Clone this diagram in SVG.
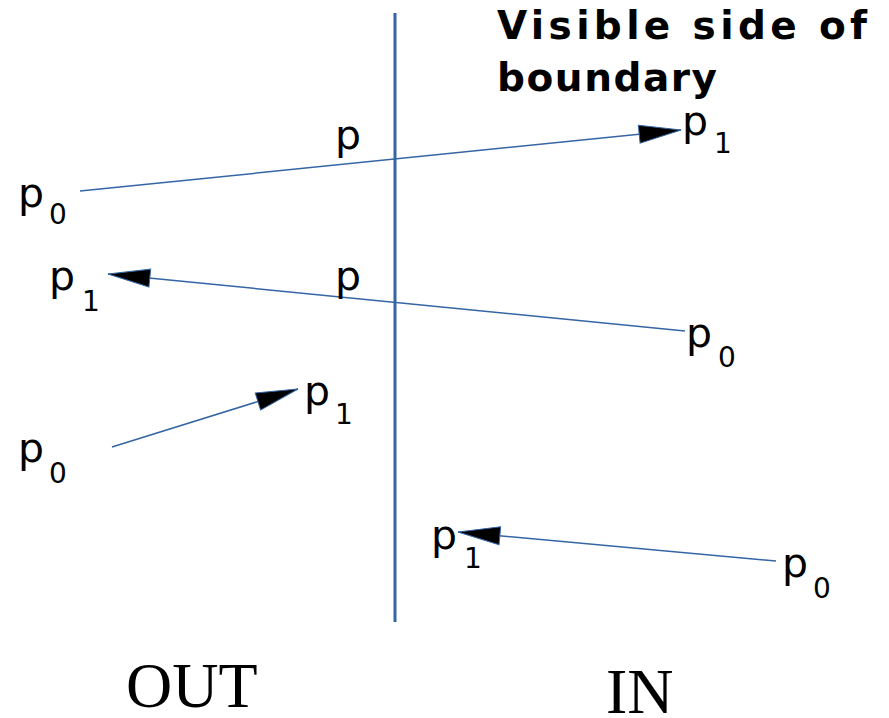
<svg xmlns="http://www.w3.org/2000/svg" width="889" height="718" viewBox="0 0 889 718">
<style>
.lbl{font-family:"DejaVu Sans",sans-serif;font-size:41px;fill:#000}
.sub{font-family:"DejaVu Sans",sans-serif;font-size:28px;fill:#000}
.title{font-family:"DejaVu Sans",sans-serif;font-size:39px;font-weight:bold;fill:#000}
.side{font-family:"Liberation Serif",serif;font-size:64px;fill:#000}
.conn{stroke:#3465a4;stroke-width:1.5;fill:none;marker-end:url(#ah)}
.bound{stroke:#3465a4;stroke-width:3;fill:none}
</style>
<defs>
<marker id="ah" markerUnits="userSpaceOnUse" markerWidth="46" markerHeight="22" refX="43" refY="10" orient="auto" viewBox="0 0 46 22">
<path d="M1,1 L43,10 L1,19 Z" fill="#000" stroke="#3465a4" stroke-width="1"/>
</marker>
</defs>
<rect width="889" height="718" fill="#fff"/>
<g id="boundary"><line class="bound" x1="395" y1="13" x2="395" y2="622"/></g>
<g id="title">
<text class="title" x="497" y="39" textLength="370" lengthAdjust="spacing">Visible side of</text>
<text class="title" x="497" y="91" textLength="220" lengthAdjust="spacing">boundary</text>
</g>
<g id="connectors">
<line class="conn" x1="80" y1="191" x2="681" y2="130"/>
<line class="conn" x1="685" y1="331" x2="108" y2="274"/>
<line class="conn" x1="112" y1="447" x2="298" y2="389"/>
<line class="conn" x1="776" y1="561" x2="458" y2="532"/>
</g>
<g id="labels">
<g id="a1p0"><text class="lbl" x="18" y="207">p</text><text class="sub" x="49" y="224">0</text></g>
<g id="a1p"><text class="lbl" x="335" y="149">p</text></g>
<g id="a1p1"><text class="lbl" x="682" y="135">p</text><text class="sub" x="714" y="153">1</text></g>
<g id="a2p1"><text class="lbl" x="49" y="290">p</text><text class="sub" x="82" y="311">1</text></g>
<g id="a2p"><text class="lbl" x="335" y="290">p</text></g>
<g id="a2p0"><text class="lbl" x="686" y="347">p</text><text class="sub" x="718" y="367">0</text></g>
<g id="a3p1"><text class="lbl" x="304" y="405">p</text><text class="sub" x="335" y="424">1</text></g>
<g id="a3p0"><text class="lbl" x="18" y="462">p</text><text class="sub" x="49" y="483">0</text></g>
<g id="a4p1"><text class="lbl" x="431" y="549">p</text><text class="sub" x="464" y="568">1</text></g>
<g id="a4p0"><text class="lbl" x="782" y="577">p</text><text class="sub" x="813" y="598">0</text></g>
</g>
<g id="sides">
<text class="side" x="126" y="707">OUT</text>
<text class="side" x="606" y="713">IN</text>
</g>
</svg>
